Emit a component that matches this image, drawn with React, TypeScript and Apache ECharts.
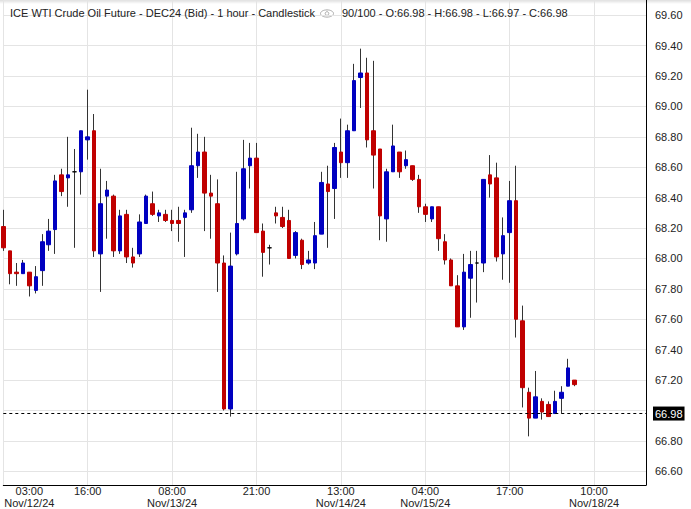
import React, { useEffect, useRef } from 'react';
import * as echarts from 'echarts';

const FONT = "'Liberation Sans', Arial, sans-serif";

const titleMain = 'ICE WTI Crude Oil Future - DEC24 (Bid) - 1 hour - Candlestick';
const slotCount = 100;

// hourly bars, left to right
const opens = [
  68.21, 68.05, 67.91, 67.90, 67.91, 67.79, 67.92, 68.09, 68.19, 68.55,
  68.53, 68.57, 68.57, 68.78, 68.84, 68.03, 68.41, 68.41, 68.05, 68.29,
  68.01, 68.03, 68.23, 68.36, 68.28, 68.29, 68.25, 68.25, 68.27, 68.32,
  68.61, 68.70, 68.43, 68.36, 67.97, 67.01, 68.03, 68.26, 68.61, 68.66,
  68.18, 68.07, 68.30, 68.27, 68.25, 68.02, 68.12, 67.97, 67.97, 68.16,
  68.49, 68.46, 68.70, 68.63, 68.84, 69.19, 69.22, 68.84, 68.72, 68.26,
  68.57, 68.70, 68.61, 68.61, 68.52, 68.34, 68.26, 68.34, 68.11, 67.99,
  67.82, 67.55, 67.87, 67.97, 67.97, 68.55, 68.53, 68.03, 68.17, 68.38,
  67.59, 67.12, 66.95, 67.06, 67.04, 66.98, 67.08, 67.16, 67.20, 66.98,
];
const highs = [
  68.32, 68.05, 67.97, 67.99, 67.91, 67.95, 68.16, 68.26, 68.55, 68.59,
  68.80, 68.72, 68.84, 69.11, 68.95, 68.59, 68.51, 68.42, 68.32, 68.32,
  68.07, 68.29, 68.42, 68.44, 68.32, 68.32, 68.32, 68.34, 68.32, 68.86,
  68.82, 68.80, 68.55, 68.52, 68.02, 68.17, 68.57, 68.78, 68.76, 68.76,
  68.23, 68.09, 68.34, 68.34, 68.32, 68.18, 68.13, 68.05, 68.24, 68.57,
  68.61, 68.76, 68.92, 68.88, 69.28, 69.38, 69.32, 69.30, 68.72, 68.59,
  68.88, 68.70, 68.71, 68.61, 68.55, 68.36, 68.34, 68.34, 68.16, 68.00,
  67.89, 68.03, 68.05, 68.05, 68.52, 68.68, 68.63, 68.27, 68.51, 68.61,
  67.69, 67.15, 67.26, 67.08, 67.06, 67.13, 67.16, 67.34, 67.20, 66.98,
];
const lows = [
  68.05, 67.83, 67.82, 67.90, 67.75, 67.77, 67.82, 68.05, 68.03, 68.41,
  68.34, 68.07, 68.42, 68.65, 68.01, 67.78, 68.13, 68.01, 68.03, 67.97,
  67.94, 68.01, 68.23, 68.28, 68.24, 68.24, 68.18, 68.11, 68.01, 68.30,
  68.53, 68.18, 68.13, 67.78, 67.00, 66.96, 68.02, 68.25, 68.46, 68.17,
  67.88, 67.96, 68.23, 68.20, 68.00, 68.00, 67.93, 67.96, 67.93, 68.16,
  68.07, 68.26, 68.53, 68.53, 68.84, 68.99, 68.73, 68.46, 68.12, 68.11,
  68.57, 68.53, 68.59, 68.51, 68.30, 68.24, 68.24, 68.05, 67.96, 67.82,
  67.55, 67.53, 67.61, 67.71, 67.91, 68.40, 67.98, 67.86, 67.84, 67.48,
  67.02, 66.83, 66.95, 66.94, 66.96, 66.98, 66.98, 67.16, 67.16, 66.97,
];
const closes = [
  68.07, 67.90, 67.90, 67.97, 67.82, 67.88, 68.11, 68.18, 68.51, 68.44,
  68.55, 68.57, 68.84, 68.80, 68.05, 68.36, 68.45, 68.05, 68.28, 68.01,
  67.97, 68.24, 68.41, 68.29, 68.30, 68.25, 68.23, 68.23, 68.30, 68.61,
  68.70, 68.43, 68.41, 67.97, 67.01, 67.95, 68.23, 68.59, 68.66, 68.17,
  68.04, 68.07, 68.28, 68.21, 68.00, 68.17, 67.96, 67.99, 68.15, 68.50,
  68.44, 68.73, 68.63, 68.84, 69.17, 69.22, 68.78, 68.68, 68.28, 68.57,
  68.74, 68.57, 68.65, 68.52, 68.34, 68.29, 68.34, 68.13, 67.99, 67.82,
  67.55, 67.91, 67.96, 67.97, 68.52, 68.49, 68.01, 68.15, 68.38, 67.60,
  67.15, 66.95, 67.09, 66.99, 66.96, 67.06, 67.12, 67.28, 67.17, 66.98,
];

const tickBars = [0, 13, 26, 39, 52, 65, 78, 91];
const tickTimes = ['03:00', '16:00', '08:00', '21:00', '13:00', '04:00', '17:00', '10:00'];
const tickDates = ['Nov/12/24', '', 'Nov/13/24', '', 'Nov/14/24', 'Nov/15/24', '', 'Nov/18/24'];

const yMin = 66.51;
const yMax = 69.7;

export default function App() {
  const ref = useRef<HTMLDivElement>(null);

  useEffect(() => {
    document.body.style.margin = '0';
    if (!ref.current) return;
    const chart = echarts.init(ref.current, undefined, { renderer: 'svg' });

    const n = closes.length;
    const categories = Array.from({ length: slotCount }, (_, i) => String(i));
    const wickData = opens.map((o, i) => [o, closes[i], lows[i], highs[i]]);
    const bodyData = opens.map((o, i) => [o, closes[i], Math.min(o, closes[i]), Math.max(o, closes[i])]);
    const last = n - 1;
    const lastClose = closes[last];
    const info = `${n}/${slotCount} - O:${opens[last].toFixed(2)} - H:${highs[last].toFixed(2)} - L:${lows[last].toFixed(2)} - C:${lastClose.toFixed(2)}`;

    const isTick = (idx: number) => tickBars.indexOf(idx) >= 0;

    const option: any = {
      animation: false,
      backgroundColor: '#fff',
      textStyle: { fontFamily: FONT },
      title: [
        {
          text: titleMain,
          left: 10,
          top: 7,
          padding: 0,
          textStyle: { fontSize: 11, fontWeight: 'normal', color: '#222', fontFamily: FONT },
        },
        {
          text: info,
          left: 342,
          top: 7,
          padding: 0,
          textStyle: { fontSize: 11, fontWeight: 'normal', color: '#222', fontFamily: FONT },
        },
      ],
      graphic: [
        {
          type: 'rect',
          silent: true,
          z: -1,
          shape: { x: 0, y: 0, width: 691, height: 4 },
          style: {
            fill: new echarts.graphic.LinearGradient(0, 0, 0, 1, [
              { offset: 0, color: 'rgba(0,0,0,0.13)' },
              { offset: 1, color: 'rgba(0,0,0,0)' },
            ]),
          },
        },
        {
          type: 'ellipse',
          silent: true,
          shape: { cx: 327, cy: 13.5, rx: 6.5, ry: 3.6 },
          style: { fill: 'none', stroke: '#aaa', lineWidth: 1 },
        },
        {
          type: 'circle',
          silent: true,
          shape: { cx: 327, cy: 13.5, r: 1.8 },
          style: { fill: 'none', stroke: '#aaa', lineWidth: 1 },
        },
      ],
      grid: { left: 3.3, right: 45, top: 0, bottom: 24, containLabel: false, outerBoundsMode: 'none' },
      xAxis: {
        type: 'category',
        data: categories,
        boundaryGap: false,
        axisLine: { show: true, onZero: false, lineStyle: { color: '#000', width: 1 } },
        axisTick: { show: false },
        axisLabel: {
          interval: (idx: number) => isTick(idx),
          margin: 0,
          fontSize: 11,
          lineHeight: 12,
          color: '#222',
          fontFamily: FONT,
          formatter: (value: string) => {
            const k = tickBars.indexOf(Number(value));
            if (k < 0) return '';
            const lines = [tickTimes[k]];
            if (tickDates[k]) lines.push(tickDates[k]);
            if (k === 0) return lines.map((l) => `{f|${l}}`).join('\n');
            return lines.join('\n');
          },
          rich: {
            f: { padding: [0, 0, 0, 52], fontSize: 11, lineHeight: 12, color: '#222', fontFamily: FONT },
          },
        },
        splitLine: {
          show: true,
          interval: (idx: number) => isTick(idx),
          lineStyle: { color: '#e4e4e4', width: 1 },
        },
      },
      yAxis: {
        type: 'value',
        position: 'right',
        min: yMin,
        max: yMax,
        scale: true,
        splitNumber: 15,
        minInterval: 0.2,
        maxInterval: 0.2,
        axisLine: { show: true, lineStyle: { color: '#000', width: 1 } },
        axisTick: { show: false },
        axisLabel: {
          showMinLabel: false,
          showMaxLabel: false,
          margin: 9,
          fontSize: 11,
          color: '#222',
          fontFamily: FONT,
          formatter: (v: number) => v.toFixed(2),
        },
        splitLine: { show: true, lineStyle: { color: '#e4e4e4', width: 1 } },
      },
      series: [
        {
          type: 'candlestick',
          name: 'wicks',
          data: wickData,
          barWidth: 1,
          clip: false,
          silent: true,
          itemStyle: {
            color: '#333',
            color0: '#333',
            borderColor: '#333',
            borderColor0: '#333',
            borderColorDoji: '#333',
            borderWidth: 1,
          },
        },
        {
          type: 'candlestick',
          name: 'bodies',
          data: bodyData,
          barWidth: 4,
          clip: false,
          silent: true,
          itemStyle: {
            color: '#0000c0',
            color0: '#c00000',
            borderColor: '#0000c0',
            borderColor0: '#c00000',
            borderColorDoji: '#000',
            borderWidth: 1,
          },
          markLine: {
            silent: true,
            symbol: ['none', 'none'],
            lineStyle: { type: [3, 3], color: '#000', width: 1 },
            label: {
              show: true,
              position: 'end',
              distance: 7,
              formatter: lastClose.toFixed(2),
              backgroundColor: '#000',
              color: '#fff',
              fontSize: 11,
              fontFamily: FONT,
              lineHeight: 12,
              padding: [1, 2],
            },
            data: [{ yAxis: lastClose }],
          },
        },
      ],
    };

    chart.setOption(option);
    return () => {
      chart.dispose();
    };
  }, []);

  return (
    <div
      ref={ref}
      style={{ position: 'absolute', left: 0, top: 0, width: 691, height: 509 }}
    />
  );
}
